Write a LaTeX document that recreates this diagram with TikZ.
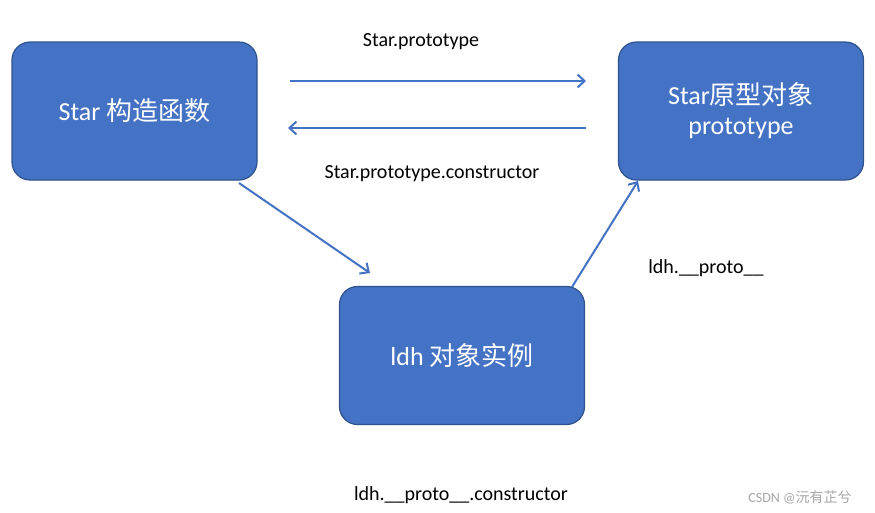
\documentclass[tikz,border=0pt]{standalone}
\usetikzlibrary{arrows.meta}
\usepackage{fontspec}
\setmainfont{Carlito}
\newfontfamily\cjk{Noto Sans CJK SC}
\definecolor{boxfill}{HTML}{4472C4}
\definecolor{boxline}{HTML}{2F528F}
\begin{document}
\begin{tikzpicture}[x=1pt,y=-1pt,
  box/.style={draw=boxline,line width=1.2pt,fill=boxfill,rounded corners=18pt,minimum width=245pt,minimum height=138pt,text=white,font=\fontsize{26}{30}\selectfont,align=center},
  conn/.style={draw=boxfill,line width=2pt,-{Straight Barb[length=7pt,width=13pt]}},
  lab/.style={font=\fontsize{20}{24}\selectfont}]
\useasboundingbox (0,0) rectangle (875,512);
\node[box] (s) at (134.5,111) {Star {\cjk 构造函数}};
\node[box] (p) at (741,111) {Star{\cjk 原型对象}\\prototype};
\node[box] (i) at (462,355.5) {ldh {\cjk 对象实例}};
\coordinate (a1) at (290,81); \coordinate (a2) at (586,81);
\coordinate (b1) at (586,128); \coordinate (b2) at (288,128);
\coordinate (c1) at (239,183); \coordinate (c2) at (370,273);
\coordinate (d1) at (572,287); \coordinate (d2) at (638,181);
\draw[conn] (a1) -- (a2);
\draw[conn] (b1) -- (b2);
\draw[conn] (c1) -- (c2);
\draw[conn] (d1) -- (d2);
\node[lab] (l1) at (421,42) {Star.prototype};
\node[lab] (l2) at (432,174) {Star.prototype.constructor};
\node[lab] (l3) at (706,268) {ldh.\_\_proto\_\_};
\node[lab] (l4) at (461,495) {ldh.\_\_proto\_\_.constructor};
\node[font=\fontsize{14}{16}\selectfont,text=gray!70] (w) at (800,497) {CSDN @{\cjk 沅有芷兮}};
\end{tikzpicture}
\end{document}
